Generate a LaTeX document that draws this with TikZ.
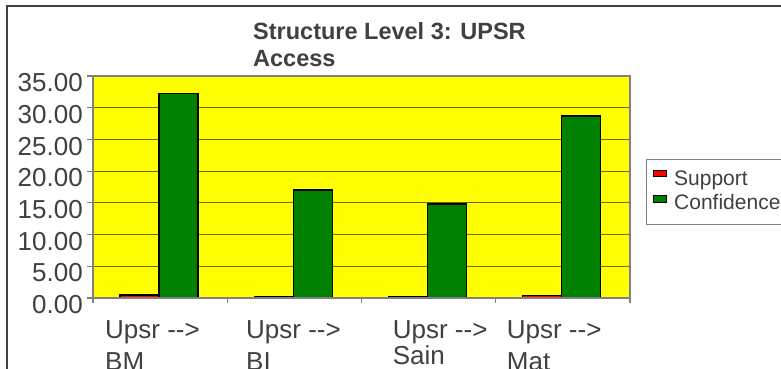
\documentclass[tikz,border=0pt]{standalone}
\usepackage{fontspec}
\setmainfont{Liberation Sans}
\definecolor{txt}{HTML}{404040}
\definecolor{frame}{HTML}{404040}
\definecolor{axisgray}{HTML}{808080}
\definecolor{gridol}{HTML}{6A6A00}
\definecolor{plotbg}{HTML}{FFFF00}
\definecolor{confgreen}{HTML}{008000}
\definecolor{suppred}{HTML}{FF0000}
\tikzset{
  lbl/.style={inner sep=0pt, text=txt, font=\fontsize{26}{31}\selectfont},
  ttl/.style={inner sep=0pt, text=txt, font=\fontsize{23.5}{27}\selectfont\bfseries},
  leg/.style={inner sep=0pt, text=txt, font=\fontsize{21}{25}\selectfont},
  confbar/.style={fill=confgreen, draw=black, line width=1.4pt},
  suppbar/.style={fill=suppred, draw=black, line width=1.4pt},
  gridline/.style={draw=gridol, line width=1pt},
  axisline/.style={draw=axisgray, line width=1.5pt},
}
\begin{document}
\begin{tikzpicture}[x=1pt,y=-1pt]
\useasboundingbox (0,0) rectangle (781,369);
\clip (0,0) rectangle (781,369);
\fill[white] (0,0) rectangle (781,369);
% outer frame
\draw[frame, line width=2pt] (781,6.5) -- (6.5,6.5) -- (6.5,369);
% title
\node[ttl, anchor=base west] (t1) at (253,39.3) {Structure Level 3: UPSR};
\node[ttl, anchor=base west] (t2) at (253,66.7) {Access};
% plot area
\fill[plotbg] (93,76) rectangle (630,298);
\foreach \v in {5,10,15,20,25,30} {
  \draw[gridline] (93,{298-\v*6.343}) -- (630,{298-\v*6.343});
}
% bars
\foreach \i/\s/\c in {0/0.45/32.2, 1/0.25/17.0, 2/0.25/14.8, 3/0.42/28.7} {
  \pgfmathsetmacro{\cx}{93+134.25*\i}
  \draw[suppbar] ({\cx+27},298) rectangle ({\cx+66},{298-\s*6.343});
  \draw[confbar] ({\cx+66},298) rectangle ({\cx+105},{298-\c*6.343});
}
% plot border and axes
\draw[axisline] (93,298) -- (93,76) -- (630,76) -- (630,298) -- cycle;
\foreach \v in {0,5,...,35} {
  \draw[axisline, line width=1.2pt] (87,{298-\v*6.343}) -- (93,{298-\v*6.343});
}
\foreach \i in {0,1,2,3,4} {
  \draw[axisline, line width=1.2pt] ({93+134.25*\i},298) -- ({93+134.25*\i},303);
}
% y labels
\foreach \v/\t in {0/0.00,5/5.00,10/10.00,15/15.00,20/20.00,25/25.00,30/30.00,35/35.00} {
  \node[lbl, anchor=base east] (y\v) at (83,{298-\v*6.343+15.7}) {\t};
}
% category labels
\node[lbl, anchor=base west] (c1a) at (105,338.3) {Upsr -{}-{}>};
\node[lbl, anchor=base west] (c1b) at (105,370.7) {BM};
\node[lbl, anchor=base west] (c2a) at (246,338.3) {Upsr -{}-{}>};
\node[lbl, anchor=base west] (c2b) at (246,370.7) {BI};
\node[lbl, anchor=base west] (c3a) at (392.7,338.3) {Upsr -{}-{}>};
\node[lbl, anchor=base west] (c3b) at (392.7,364) {Sain};
\node[lbl, anchor=base west] (c4a) at (506.7,338.3) {Upsr -{}-{}>};
\node[lbl, anchor=base west] (c4b) at (506.7,370.7) {Mat};
% legend
\draw[axisgray, line width=1pt] (781,159.3) -- (646,159.3) -- (646,224) -- (781,224);
\draw[fill=suppred, draw=black, line width=1pt] (653.3,170.7) rectangle (666,176.7);
\draw[fill=confgreen, draw=black, line width=1pt] (653.3,195.7) rectangle (666,202.3);
\node[leg, anchor=base west] (ls) at (674,185) {Support};
\node[leg, anchor=base west] (lc) at (674,209.3) {Confidence};
\end{tikzpicture}
\end{document}
